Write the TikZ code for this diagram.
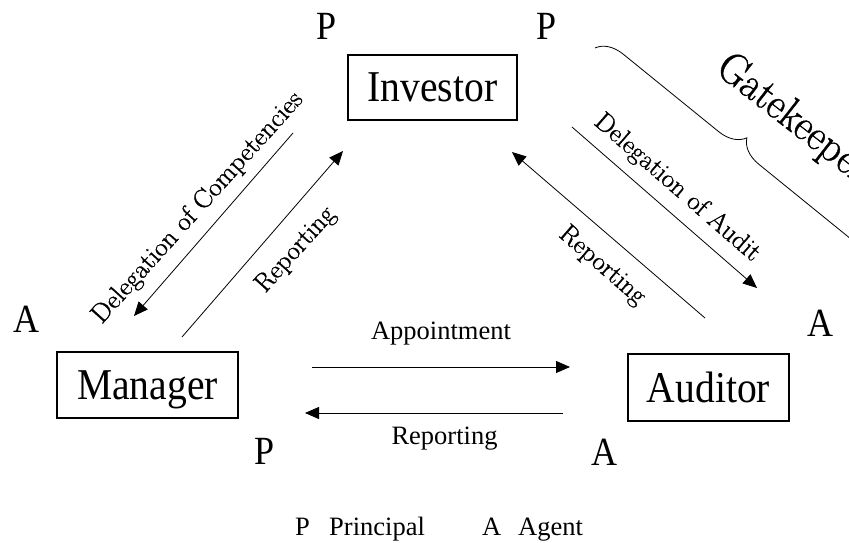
\documentclass[tikz,border=0pt]{standalone}
\usepackage{fontspec}
\setmainfont{Liberation Serif}
\newfontfamily\bigfont[FakeStretch=0.9]{Liberation Serif}
\newfontfamily\slantedlabelfont[FakeBold=1]{Latin Modern Roman}
\usetikzlibrary{arrows.meta,decorations.pathreplacing}

\tikzset{
  party/.style={draw, line width=1.2pt, inner sep=0pt, text height=29pt, text depth=0pt,
    font=\bigfont\fontsize{44}{48}\selectfont},
  role/.style={inner sep=0pt, text height=26pt, text depth=0pt,
    font=\bigfont\fontsize{40}{44}\selectfont},
  lbl/.style={inner sep=0pt, font=\fontsize{26.5}{30}\selectfont},
  tilted/.style={inner sep=0pt, font=\slantedlabelfont\fontsize{26.5}{30}\selectfont},
  flow/.style={line width=0.8pt, -{Triangle[length=14pt,width=12pt]}},
}

\begin{document}
\begin{tikzpicture}[x=1pt, y=-1pt]
\useasboundingbox (0,0) rectangle (849,543);
\clip (0,0) rectangle (849,543);

% the three parties
\node[party, minimum width=169pt, minimum height=65pt] (inv) at (432.5,87.5) {Investor};
\node[party, minimum width=181pt, minimum height=66pt] (man) at (147.5,385) {Manager};
\node[party, minimum width=161pt, minimum height=67pt] (aud) at (708.5,387.5) {Auditor};

% principal / agent markers
\node[role] (pInvL) at (326.5,26.5) {P};
\node[role] (pInvR) at (546.5,26.5) {P};
\node[role] (aMan)  at (26,319)   {A};
\node[role] (aAud)  at (820.5,323) {A};
\node[role] (pMan)  at (265,451.5) {P};
\node[role] (aAud2) at (604,452)   {A};

% arrow end points
\coordinate (dcS) at (293,133);  \coordinate (dcE) at (134,316);
\coordinate (rlS) at (182,337);  \coordinate (rlE) at (343,151);
\coordinate (daS) at (572,127);  \coordinate (daE) at (757,288);
\coordinate (rrS) at (705,318);  \coordinate (rrE) at (512,152);
\coordinate (apS) at (312,367);  \coordinate (apE) at (570,367);
\coordinate (rbS) at (563,413);  \coordinate (rbE) at (305,413);

\draw[flow] (dcS) -- (dcE);
\draw[flow] (rlS) -- (rlE);
\draw[flow] (daS) -- (daE);
\draw[flow] (rrS) -- (rrE);
\draw[flow] (apS) -- (apE);
\draw[flow] (rbS) -- (rbE);

% arrow labels (tilted ones condensed to a fixed run length)
\node[tilted, rotate=48]  (tDC) at (198,208) {\resizebox{302pt}{\height}{Delegation of Competencies}};
\node[tilted, rotate=48]  (tRL) at (296,250) {\resizebox{106pt}{\height}{Reporting}};
\node[tilted, rotate=-41] (tDA) at (677,188) {\resizebox{211pt}{\height}{Delegation of Audit}};
\node[tilted, rotate=-41] (tRR) at (602,266) {\resizebox{106pt}{\height}{Reporting}};
\node[lbl] (tAP) at (441,333.5) {Appointment};
\node[lbl] (tRB) at (444.5,439) {Reporting};

% gatekeeper brace
\coordinate (brS) at (595,48);
\coordinate (brE) at (866,268);
\draw[line width=0.8pt, decorate, decoration={brace, amplitude=26pt}] (brS) -- (brE);
\node[tilted, anchor=base west, rotate=-38, font=\slantedlabelfont\fontsize{44}{48}\selectfont]
  (gate) at (714,72) {\resizebox{182pt}{\height}{Gatekeeper}};

% legend
\node[lbl, anchor=base west] (kP)  at (295,535) {P};
\node[lbl, anchor=base west] (kPt) at (329,535) {Principal};
\node[lbl, anchor=base west] (kA)  at (482,535) {A};
\node[lbl, anchor=base west] (kAt) at (518,535) {Agent};
\end{tikzpicture}
\end{document}
